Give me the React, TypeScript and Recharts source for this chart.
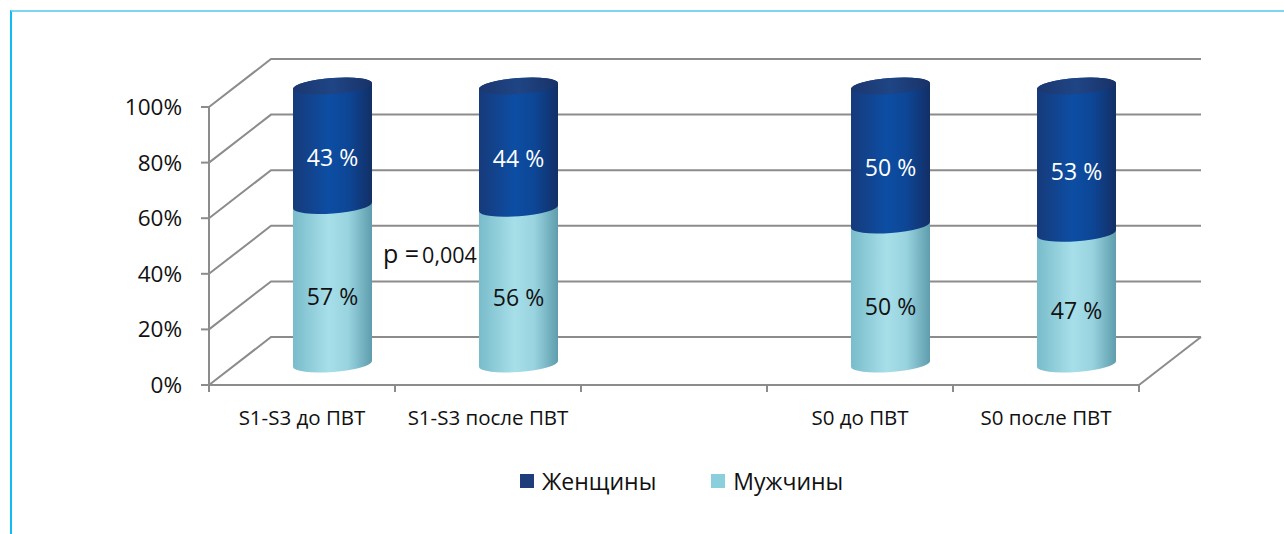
import React from "react";
import {
  BarChart,
  Bar,
  XAxis,
  YAxis,
  CartesianGrid,
  Legend,
  Customized,
} from "recharts";

const CATEGORIES = ["S1-S3 до ПВТ", "S1-S3 после ПВТ", "", "S0 до ПВТ", "S0 после ПВТ"];
const WOMEN = [43, 44, null, 50, 53];
const MEN = [57, 56, null, 50, 47];
const Y_TICKS = [0, 20, 40, 60, 80, 100];
const SERIES_ORDER = ["Женщины", "Мужчины"];

const data = CATEGORIES.map((name, i) => ({
  name,
  women: WOMEN[i],
  men: MEN[i],
}));

const W = 1284;
const H = 534;
const FONT = "'Open Sans', sans-serif";
const GRID = "#8c8c8c";
const BAND = 186;
// depth of the 3d box and of the cylinders inside it
const WALL_DX = 62;
const WALL_DY = -48;
const CYL_DX = 30;
const CYL_DY = -21;
const RY = 8;
const TILT = 3;

const gridLine = (props: any) => {
  const { x1, y1, x2, key } = props;
  const bx1 = x1 + WALL_DX;
  const bx2 = x2 + WALL_DX;
  const by = y1 + WALL_DY;
  const isFloor = Math.abs(y1 - 385) < 2;
  return (
    <g key={key}>
      <path
        d={`M${x1},${y1} L${bx1},${by} L${bx2},${by}`}
        fill="none"
        stroke={GRID}
        strokeWidth={2}
      />
      {isFloor && (
        <line x1={x2} y1={y1} x2={bx2} y2={by} stroke={GRID} strokeWidth={2} />
      )}
    </g>
  );
};

const cylinder = (top: boolean) => (props: any) => {
  const { x, y, width, height, payload } = props;
  if (!height || height <= 0) return <g />;
  const rx = width / 2;
  const cx = x + rx + CYL_DX;
  const left = cx - rx;
  const right = cx + rx;
  const yt = y + CYL_DY;
  const yb = y + height + CYL_DY;
  const a = Math.sqrt(rx * rx + TILT * TILT);
  const rot = (-Math.atan(TILT / rx) * 180) / Math.PI;
  const body =
    `M${left},${yt + TILT} L${left},${yb + TILT} ` +
    `A${a},${RY} ${rot} 0 0 ${right},${yb - TILT} L${right},${yt - TILT} ` +
    (top ? `A${a},${RY} ${rot} 0 0 ${left},${yt + TILT} Z` : "Z");
  const value = top ? payload.women : payload.men;
  return (
    <g>
      <path d={body} fill={top ? "url(#gWomen)" : "url(#gMen)"} />
      {top && (
        <ellipse
          cx={cx}
          cy={yt}
          rx={a}
          ry={RY}
          transform={`rotate(${rot} ${cx} ${yt})`}
          fill="url(#gCap)"
        />
      )}
      <text
        x={cx}
        y={y + height / 2 - 10}
        textAnchor="middle"
        dominantBaseline="central"
        fontFamily={FONT}
        fontSize={23}
        fill={top ? "#ffffff" : "#111111"}
      >
        {value} %
      </text>
    </g>
  );
};

const CategoryTick = (props: any) => {
  const { x, y, payload, index } = props;
  const last = index === CATEGORIES.length - 1;
  return (
    <g>
      <line x1={x - BAND / 2} y1={y} x2={x - BAND / 2} y2={y + 7} stroke={GRID} strokeWidth={2} />
      {last && (
        <line x1={x + BAND / 2} y1={y} x2={x + BAND / 2} y2={y + 7} stroke={GRID} strokeWidth={2} />
      )}
      <text
        x={x}
        y={y + 40}
        textAnchor="middle"
        fontFamily={FONT}
        fontSize={20.5}
        fill="#111"
      >
        {payload.value}
      </text>
    </g>
  );
};

const LegendContent = (props: any) => {
  const items = [...(props.payload || [])].sort(
    (p: any, q: any) => SERIES_ORDER.indexOf(p.value) - SERIES_ORDER.indexOf(q.value)
  );
  return (
    <div
      style={{
        display: "flex",
        justifyContent: "flex-start",
        alignItems: "center",
        height: 30,
        paddingLeft: 520,
        fontFamily: FONT,
        fontSize: 23,
        color: "#111",
      }}
    >
      {items.map((it: any, i: number) => (
        <div
          key={it.value}
          style={{ display: "flex", alignItems: "center", marginRight: i === 0 ? 55 : 0 }}
        >
          <span
            style={{
              width: 14,
              height: 14,
              background: it.color,
              marginRight: 8,
              display: "inline-block",
            }}
          />
          {it.value}
        </div>
      ))}
    </div>
  );
};

export default function App() {
  return (
    <div style={{ position: "absolute", left: 0, top: 0, width: W, height: H, background: "#fff" }}>
      <div
        style={{
          position: "absolute",
          left: 10,
          top: 10,
          width: W - 10,
          height: H - 10,
          borderTop: "2px solid #7fd4f2",
          borderLeft: "2px solid #12bcf2",
          boxSizing: "border-box",
        }}
      />
      <BarChart
        width={W}
        height={H}
        data={data}
        margin={{ top: 107, right: 145, bottom: 79, left: 149 }}
        barSize={79}
      >
        <defs>
          <linearGradient id="gMen" x1="0" y1="0" x2="1" y2="0">
            <stop offset="0" stopColor="#79bccb" />
            <stop offset="0.45" stopColor="#a7dfe9" />
            <stop offset="0.7" stopColor="#98d3df" />
            <stop offset="1" stopColor="#5f9dad" />
          </linearGradient>
          <linearGradient id="gWomen" x1="0" y1="0" x2="1" y2="0">
            <stop offset="0" stopColor="#173a7a" />
            <stop offset="0.45" stopColor="#0c4ea4" />
            <stop offset="0.7" stopColor="#0d4696" />
            <stop offset="1" stopColor="#132f66" />
          </linearGradient>
          <linearGradient id="gCap" x1="0" y1="0" x2="1" y2="0">
            <stop offset="0" stopColor="#1b3770" />
            <stop offset="0.5" stopColor="#1f4585" />
            <stop offset="1" stopColor="#193268" />
          </linearGradient>
        </defs>
        <CartesianGrid vertical={false} horizontal={gridLine} />
        <XAxis
          dataKey="name"
          height={40}
          tickSize={0}
          tickMargin={0}
          tickLine={false}
          axisLine={{ stroke: GRID, strokeWidth: 2 }}
          tick={<CategoryTick />}
          interval={0}
        />
        <YAxis
          width={60}
          domain={[0, 100]}
          ticks={Y_TICKS}
          tickFormatter={(v: number) => `${v}%`}
          tickSize={8}
          tickMargin={19}
          axisLine={{ stroke: GRID, strokeWidth: 2 }}
          tickLine={{ stroke: GRID, strokeWidth: 2 }}
          tick={{ fontFamily: FONT, fontSize: 22.5, fill: "#111" }}
        />
        <Legend
          verticalAlign="bottom"
          height={30}
          content={<LegendContent />}
          wrapperStyle={{ left: 0, width: W, top: 466, bottom: "auto" }}
        />
        <Bar
          dataKey="men"
          name="Мужчины"
          stackId="a"
          fill="#8ccfdc"
          shape={cylinder(false)}
          isAnimationActive={false}
        />
        <Bar
          dataKey="women"
          name="Женщины"
          stackId="a"
          fill="#1f3d7a"
          shape={cylinder(true)}
          isAnimationActive={false}
        />
        <Customized
          component={() => (
            <text x={383} y={263} fontFamily={FONT} fill="#111">
              <tspan fontSize={25}>p =</tspan>
              <tspan fontSize={21.5} dx={3}>0,004</tspan>
            </text>
          )}
        />
      </BarChart>
    </div>
  );
}
